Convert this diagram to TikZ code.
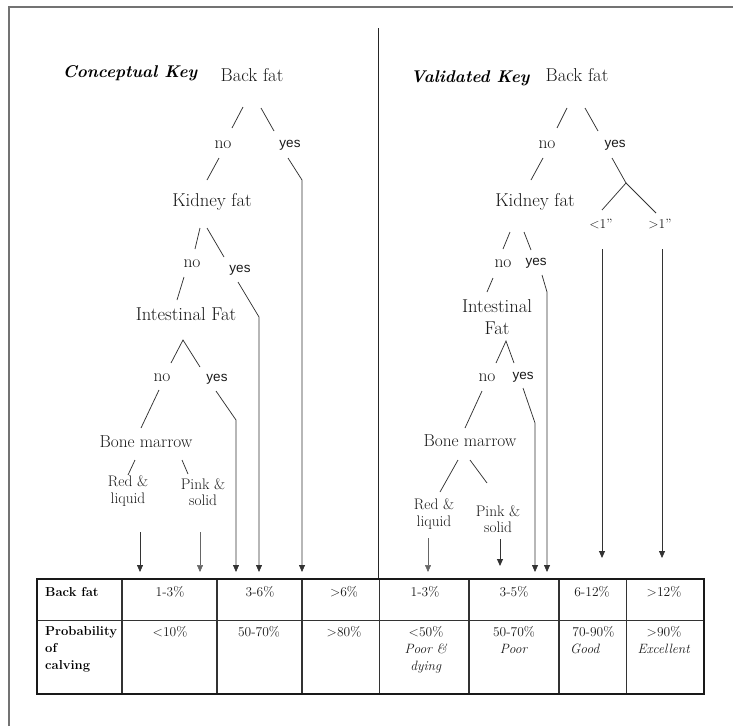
\documentclass[tikz,border=0pt]{standalone}
\usepackage{fontspec}
\newfontfamily\arialf{Liberation Sans}
\usetikzlibrary{arrows.meta}
\begin{document}
\begin{tikzpicture}[x=1pt,y=-1pt,
  every node/.style={inner sep=0pt, text=black!90},
  lbl/.style={font=\fontsize{18.6}{21}\selectfont},
  ttl/.style={font=\fontsize{17}{19}\selectfont\bfseries\itshape, text=black},
  bm/.style={font=\fontsize{17.3}{19}\selectfont},
  nol/.style={font=\fontsize{17.5}{19}\selectfont},
  yesl/.style={font=\arialf\fontsize{13.5}{16}\selectfont},
  leaf/.style={font=\fontsize{15.3}{16.5}\selectfont, align=center},
  small/.style={font=\fontsize{13.5}{15}\selectfont},
  cell/.style={font=\fontsize{13.5}{17}\selectfont, align=center, anchor=north},
  br/.style={draw=black!80, line width=0.75pt},
  arr/.style={br, -{Triangle[width=6pt,length=7pt]}},
  tbl/.style={draw=black!90, line width=1.6pt},
  tin/.style={draw=black!80, line width=0.9pt}
]
\useasboundingbox (0,0) rectangle (733,726);
% frame
\coordinate (f1) at (9,726); \coordinate (f2) at (9,7); \coordinate (f3) at (733,7);
\draw[draw=black!55, line width=1.3pt] (f1) -- (f2) -- (f3);
% divider
\coordinate (d1) at (378,28); \coordinate (d2) at (378,579);
\draw[draw=black!85, line width=1pt] (d1) -- (d2);

% ================= LEFT TREE =================
\node[ttl] (ckey) at (130,73) {Conceptual Key};
\node[lbl] (lbf) at (252,75) {Back fat};
\coordinate (l1a) at (243,107); \coordinate (l1b) at (232,128);
\coordinate (l2a) at (261,108); \coordinate (l2b) at (274,131);
\draw[br] (l1a) -- (l1b); \draw[br] (l2a) -- (l2b);
\node[nol] (lno1) at (223,145) {no};
\node[yesl] (lyes1) at (290,145) {yes};
\coordinate (l3a) at (219,158); \coordinate (l3b) at (207,180);
\draw[br] (l3a) -- (l3b);
\coordinate (l4a) at (288,158); \coordinate (l4b) at (302,180); \coordinate (l4t) at (302,572);
\draw[arr] (l4a) -- (l4b) -- (l4t);
\node[lbl] (lkid) at (212,202) {Kidney fat};
\coordinate (l5a) at (200,228); \coordinate (l5b) at (195,249);
\coordinate (l6a) at (207,228); \coordinate (l6b) at (224,257);
\draw[br] (l5a) -- (l5b); \draw[br] (l6a) -- (l6b);
\node[nol] (lno2) at (192,264) {no};
\node[yesl] (lyes2) at (240,270) {yes};
\coordinate (l7a) at (184,277); \coordinate (l7b) at (177,300);
\draw[br] (l7a) -- (l7b);
\coordinate (l8a) at (238,282); \coordinate (l8b) at (259,317); \coordinate (l8t) at (259,572);
\draw[arr] (l8a) -- (l8b) -- (l8t);
\node[lbl] (lint) at (186,314) {Intestinal Fat};
\coordinate (l9) at (183,340); \coordinate (l9b) at (171,363); \coordinate (l9c) at (200,367);
\draw[br] (l9b) -- (l9) -- (l9c);
\node[nol] (lno3) at (162,378) {no};
\node[yesl] (lyes3) at (217,379) {yes};
\coordinate (l10a) at (159,390); \coordinate (l10b) at (141,428);
\draw[br] (l10a) -- (l10b);
\coordinate (l11a) at (216,391); \coordinate (l11b) at (236,420); \coordinate (l11t) at (236,572);
\draw[arr] (l11a) -- (l11b) -- (l11t);
\node[bm] (lbm) at (146,442) {Bone marrow};
\coordinate (l12a) at (135,460); \coordinate (l12b) at (128,475);
\coordinate (l13a) at (182,460); \coordinate (l13b) at (188,474);
\draw[br] (l12a) -- (l12b); \draw[br] (l13a) -- (l13b);
\node[leaf] (lred) at (128,491) {Red \&\\liquid};
\node[leaf] (lpink) at (203,492) {Pink \&\\solid};
\coordinate (l14a) at (140,532); \coordinate (l14t) at (140,572);
\coordinate (l15a) at (200,532); \coordinate (l15t) at (200,572);
\draw[arr] (l14a) -- (l14t);
\draw[arr, draw=black!60, line width=0.5pt] (l15a) -- (l15t);

% ================= RIGHT TREE =================
\node[ttl] (vkey) at (470,78) {Validated Key};
\node[lbl] (rbf) at (577,75) {Back fat};
\coordinate (r1a) at (567,108); \coordinate (r1b) at (557,128);
\coordinate (r2a) at (585,108); \coordinate (r2b) at (598,131);
\draw[br] (r1a) -- (r1b); \draw[br] (r2a) -- (r2b);
\node[nol] (rno1) at (547,145) {no};
\node[yesl] (ryes1) at (615,145) {yes};
\coordinate (r3a) at (543,158); \coordinate (r3b) at (531,180);
\draw[br] (r3a) -- (r3b);
\coordinate (r4a) at (612,158); \coordinate (r4b) at (626,183);
\coordinate (r4c) at (602,210); \coordinate (r4d) at (656,213);
\draw[br] (r4a) -- (r4b); \draw[br] (r4c) -- (r4b) -- (r4d);
\node[small] (rlt) at (601,224) {<1''};
\node[small] (rgt) at (660,224) {>1''};
\coordinate (ra1) at (602,249); \coordinate (ra1t) at (602,558);
\coordinate (ra2) at (662,249); \coordinate (ra2t) at (662,558);
\draw[arr, line width=0.9pt] (ra1) -- (ra1t);
\draw[arr] (ra2) -- (ra2t);
\node[lbl] (rkid) at (535,202) {Kidney fat};
\coordinate (r5a) at (510,232); \coordinate (r5b) at (503,249);
\coordinate (r6a) at (524,232); \coordinate (r6b) at (531,250);
\draw[br] (r5a) -- (r5b); \draw[br] (r6a) -- (r6b);
\node[nol] (rno2) at (503,264) {no};
\node[yesl] (ryes2) at (536,263) {yes};
\coordinate (r7a) at (493,278); \coordinate (r7b) at (487,292);
\draw[br] (r7a) -- (r7b);
\coordinate (r8a) at (542,275); \coordinate (r8b) at (547,292); \coordinate (r8t) at (547,572);
\draw[arr] (r8a) -- (r8b) -- (r8t);
\node[lbl, align=center, font=\fontsize{18.6}{21.5}\selectfont] (rint) at (497,317) {Intestinal\\Fat};
\coordinate (r9) at (506,341); \coordinate (r9b) at (496,363); \coordinate (r9c) at (514,363);
\draw[br] (r9b) -- (r9) -- (r9c);
\node[nol] (rno3) at (487,378) {no};
\node[yesl] (ryes3) at (523,377) {yes};
\coordinate (r10a) at (482,391); \coordinate (r10b) at (465,428);
\draw[br] (r10a) -- (r10b);
\coordinate (r11a) at (523,388); \coordinate (r11b) at (535,423); \coordinate (r11t) at (535,572);
\draw[arr] (r11a) -- (r11b) -- (r11t);
\node[bm] (rbm) at (470,441) {Bone marrow};
\coordinate (r12a) at (458,460); \coordinate (r12b) at (440,492);
\coordinate (r13a) at (470,460); \coordinate (r13b) at (487,483);
\draw[br] (r12a) -- (r12b); \draw[br] (r13a) -- (r13b);
\node[leaf] (rred) at (434,514) {Red \&\\liquid};
\node[leaf] (rpink) at (498,519) {Pink \&\\solid};
\coordinate (r14a) at (428,538); \coordinate (r14t) at (428,572);
\coordinate (r15a) at (500,539); \coordinate (r15t) at (500,566);
\draw[arr, draw=black!60, line width=0.5pt] (r14a) -- (r14t);
\draw[arr, line width=1pt] (r15a) -- (r15t);

% ================= TABLE =================
\coordinate (t1) at (37,579); \coordinate (t2) at (704,694);
\coordinate (h1) at (37,620); \coordinate (h2) at (704,620);
\draw[tin] (h1) -- (h2);
\foreach \x/\w in {122/1.2pt,217/1.4pt,302/1.1pt,379/1pt,469/1.2pt,559/1.4pt,626/0.8pt}{
  \draw[draw=black!80, line width=\w] (\x,579) -- (\x,694);
}
\draw[tbl] (t1) rectangle (t2);
\node[font=\fontsize{13}{17}\selectfont\bfseries, anchor=west, text=black] (hbf) at (45,592) {Back fat};
\node[font=\fontsize{13}{17}\selectfont\bfseries, anchor=north west, align=left, text=black] (hpc) at (45,626) {Probability\\of\\calving};
\node[small] (a1) at (170,592) {1-3\%};
\node[small] (a2) at (260,592) {3-6\%};
\node[small] (a3) at (344,592) {>6\%};
\node[small] (a4) at (425,592) {1-3\%};
\node[small] (a5) at (514,592) {3-5\%};
\node[small] (a6) at (592,592) {6-12\%};
\node[small] (a7) at (664,592) {>12\%};
\node[cell] (b1) at (170,626) {<10\%};
\node[cell] (b2) at (259,626) {50-70\%};
\node[cell] (b3) at (344,626) {>80\%};
\node[cell] (b4) at (426,626) {<50\%\\\textit{Poor \&}\\\textit{dying}};
\node[cell] (b5) at (514,626) {50-70\%\\\textit{Poor}};
\node[cell, align=left, anchor=north west] (b6) at (570,626) {\,70-90\%\\\textit{Good}};
\node[cell] (b7) at (664,626) {>90\%\\\textit{Excellent}};
\end{tikzpicture}
\end{document}
